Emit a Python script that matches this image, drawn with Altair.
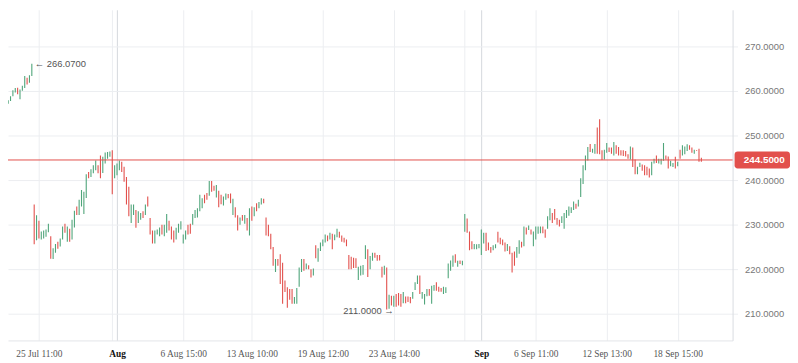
import altair as alt
import pandas as pd

# ---- data (hourly bars, one per index) ----
highs = [
    257.0, 258.5, 258.3, 257.9, 258.8, 260.1, 260.6, 260.7, 260.3, 261.1, 263.3, 262.9, 263.5, 266.07,
    234.5, 232.1, 230.9, 228.5, 228.7, 228.9, 230.2, 227.4, 224.7, 225.7,
    226.2, 226.9, 229.6, 230.2, 229.6, 229.1, 231.1, 233.1, 234.1, 235.6,
    237.8, 237.4, 241.3, 241.8, 242.4, 243.3, 244.4, 243.3, 245.5, 245.2,
    246.2, 246.3, 246.4, 246.7, 243.3, 243.7, 244.4, 244.1, 243.0, 240.7,
    238.5, 234.5, 234.5, 233.3, 233.0, 232.6, 233.0, 234.5, 236.3, 231.5,
    228.7, 228.7, 228.9, 229.4, 230.0, 230.0, 232.4, 230.9, 229.6, 228.7,
    229.3, 230.2, 230.8, 227.8, 228.7, 230.0, 230.2, 232.4, 233.3, 233.7,
    236.7, 235.9, 236.7, 237.1, 239.8, 239.8, 238.7, 238.9, 237.6, 236.7,
    236.3, 237.0, 236.9, 237.0, 235.8, 233.9, 232.1, 231.6, 232.2, 232.2,
    231.5, 233.7, 234.1, 233.9, 234.8, 235.1, 235.9, 235.8, 231.6, 230.0,
    228.0, 225.0, 222.3, 222.3, 223.4, 221.5, 217.5, 216.0, 215.6, 215.6,
    213.8, 215.8, 220.4, 222.3, 222.3, 221.3, 220.9, 220.0, 220.2, 225.4,
    224.7, 226.0, 226.7, 227.8, 227.6, 228.2, 228.0, 227.8, 229.1, 228.4,
    227.6, 227.1, 226.7, 223.2, 222.8, 222.6, 222.5, 220.6, 220.8, 221.0,
    225.4, 224.5, 223.0, 223.7, 223.7, 223.2, 223.2, 220.6, 220.8, 220.4,
    214.3, 214.1, 214.1, 214.5, 214.7, 214.5, 214.9, 213.9, 213.9, 213.8,
    214.9, 217.1, 218.6, 218.6, 214.9, 214.5, 215.6, 215.6, 216.3, 216.5,
    217.1, 216.1, 215.8, 216.1, 216.0, 221.3, 222.0, 223.1, 223.4, 221.9,
    222.0, 221.9, 232.4, 231.4, 228.5, 226.3, 225.7, 225.6, 225.7, 228.9,
    228.2, 228.2, 226.0, 225.0, 225.4, 225.6, 228.4, 227.1, 226.7, 226.0,
    225.7, 225.2, 223.7, 224.0, 225.0, 226.5, 226.2, 229.6, 229.4, 229.8,
    228.9, 228.5, 229.6, 229.6, 229.6, 229.6, 228.9, 231.9, 233.7, 232.6,
    233.5, 231.5, 231.1, 231.9, 232.6, 233.3, 234.1, 233.9, 235.2, 234.7,
    235.6, 240.4, 243.3, 245.5, 247.4, 248.1, 247.0, 248.1, 251.8, 253.6,
    246.7, 246.8, 248.3, 247.3, 247.3, 248.5, 247.8, 247.4, 246.7, 246.7,
    246.5, 245.8, 247.5, 247.3, 244.6, 243.0, 243.9, 243.5, 243.3, 243.0,
    242.6, 244.1, 244.8, 245.5, 244.8, 244.8, 248.3, 245.5, 245.3, 244.3,
    243.8, 245.2, 244.1, 246.8, 247.8, 247.5, 248.0, 247.8, 247.3, 246.8,
    246.7, 247.0, 245.0,
]
lows = [
    254.8, 256.6, 257.0, 257.1, 257.7, 258.8, 259.6, 259.2, 258.1, 260.0, 260.6, 261.4, 261.8, 263.3,
    225.6, 226.5, 226.9, 226.7, 226.9, 227.3, 228.3, 222.4, 222.3, 223.7,
    224.6, 225.1, 226.7, 228.2, 226.2, 226.2, 226.7, 229.4, 232.2, 232.2,
    234.1, 232.4, 236.0, 240.4, 240.7, 241.5, 242.2, 241.5, 240.4, 241.6,
    243.7, 244.8, 245.2, 236.8, 240.4, 241.1, 242.2, 241.8, 239.6, 234.5,
    231.9, 230.4, 232.2, 229.3, 230.4, 231.1, 231.5, 232.2, 234.1, 227.8,
    225.8, 225.8, 227.8, 227.4, 227.8, 227.4, 228.2, 228.7, 226.7, 226.0,
    226.7, 228.2, 228.9, 225.8, 226.7, 227.8, 228.0, 230.0, 231.5, 231.6,
    233.0, 233.7, 234.8, 235.6, 236.5, 237.4, 237.6, 236.1, 233.9, 234.6,
    234.3, 235.6, 235.9, 234.8, 232.2, 231.6, 228.7, 230.0, 230.9, 230.2,
    228.7, 227.6, 230.9, 231.9, 233.0, 233.7, 234.5, 234.8, 227.6, 227.4,
    224.5, 220.8, 219.4, 220.8, 216.7, 212.3, 214.9, 211.4, 213.2, 212.3,
    212.3, 212.3, 216.1, 219.4, 219.7, 220.0, 220.0, 218.2, 218.6, 222.5,
    221.7, 224.1, 225.2, 226.0, 226.3, 226.7, 224.5, 226.5, 227.2, 227.1,
    226.2, 226.0, 225.2, 220.0, 220.0, 220.3, 220.3, 217.6, 218.6, 218.8,
    222.3, 218.3, 220.0, 221.9, 222.6, 221.9, 222.0, 218.2, 218.8, 211.0,
    211.2, 211.9, 211.6, 211.6, 211.9, 211.6, 212.4, 212.4, 212.7, 212.4,
    213.4, 215.4, 216.7, 214.5, 213.4, 212.1, 214.0, 214.1, 212.3, 215.2,
    215.2, 215.0, 215.0, 214.5, 214.7, 218.0, 219.7, 220.6, 221.5, 220.6,
    221.2, 220.9, 228.4, 228.2, 224.3, 224.5, 224.5, 224.5, 224.7, 223.2,
    225.8, 224.1, 224.3, 223.7, 224.3, 224.7, 226.0, 225.6, 225.4, 224.0,
    224.1, 223.4, 219.3, 220.8, 222.6, 223.5, 224.9, 225.2, 227.8, 228.8,
    227.8, 225.2, 226.7, 228.0, 228.1, 228.1, 227.1, 229.1, 231.0, 230.4,
    231.1, 230.0, 229.6, 230.4, 229.1, 231.5, 232.0, 232.6, 233.3, 233.6,
    234.1, 236.2, 239.1, 242.2, 244.4, 246.3, 246.1, 245.9, 245.9, 245.8,
    244.5, 244.6, 246.1, 246.3, 245.9, 245.5, 245.9, 245.5, 245.5, 245.4,
    245.3, 244.8, 244.6, 242.9, 241.3, 241.3, 242.9, 242.1, 241.1, 241.1,
    240.6, 241.1, 243.7, 243.8, 243.7, 243.5, 244.3, 244.6, 242.6, 243.1,
    242.9, 242.6, 243.1, 244.8, 245.5, 245.8, 246.5, 246.8, 246.1, 245.9,
    246.5, 244.1, 244.1,
]
up = [
    0, 1, 0, 1, 1, 1, 1, 0, 1, 1, 1, 0, 1, 1,
    0, 1, 0, 1, 1, 1, 1, 0, 1, 1,
    0, 1, 1, 0, 1, 0, 1, 1, 0, 1,
    1, 1, 1, 0, 1, 1, 1, 0, 0, 1,
    1, 1, 1, 0, 1, 1, 1, 0, 0, 0,
    0, 1, 1, 0, 1, 1, 0, 1, 0, 0,
    0, 1, 1, 1, 0, 1, 1, 0, 0, 0,
    1, 1, 1, 1, 1, 0, 0, 1, 1, 1,
    1, 1, 0, 0, 1, 0, 0, 1, 0, 0,
    1, 1, 0, 0, 1, 0, 0, 1, 0, 1,
    0, 1, 0, 1, 0, 1, 1, 0, 0, 0,
    0, 0, 1, 0, 0, 0, 0, 0, 0, 0,
    1, 1, 1, 1, 0, 1, 0, 0, 1, 0,
    1, 1, 1, 1, 0, 1, 0, 1, 1, 0,
    0, 0, 0, 0, 0, 0, 0, 1, 1, 1,
    1, 0, 1, 1, 0, 0, 0, 0, 1, 0,
    1, 0, 1, 0, 0, 0, 1, 0, 0, 0,
    1, 1, 1, 0, 1, 1, 1, 0, 1, 1,
    0, 0, 0, 1, 1, 1, 1, 1, 0, 1,
    0, 1, 1, 0, 0, 0, 1, 1, 1, 1,
    1, 0, 0, 0, 1, 1, 0, 0, 0, 0,
    1, 0, 0, 0, 1, 1, 0, 1, 0, 1,
    0, 1, 1, 1, 1, 0, 0, 1, 1, 0,
    0, 0, 0, 1, 1, 1, 1, 1, 1, 0,
    1, 1, 1, 1, 1, 0, 1, 1, 0, 0,
    0, 1, 1, 0, 0, 1, 0, 0, 0, 0,
    0, 0, 1, 0, 0, 1, 1, 0, 0, 0,
    0, 1, 1, 0, 1, 1, 1, 0, 0, 1,
    1, 0, 1, 0, 1, 1, 1, 0, 0, 1,
    0, 0, 0,
]

tick_index = [16, 47, 49, 77, 106, 136, 166, 196, 203, 226, 256, 286]
tick_labels = ["25 Jul 11:00", "", "Aug", "6 Aug 15:00", "13 Aug 10:00", "19 Aug 12:00",
               "23 Aug 14:00", "", "Sep", "6 Sep 11:00", "12 Sep 13:00", "18 Sep 15:00"]
month_ticks = [49, 203]
y_ticks = [210, 220, 230, 240, 250, 260, 270]
last_price = 244.5
max_bar, max_value = 13, 266.07
min_bar, min_value = 163, 211.0

GREEN = "#4fa57a"
RED = "#e2504c"
GRID = "#eceef1"

bars = pd.DataFrame({
    "i": list(range(len(highs))),
    "high": highs,
    "low": lows,
    "dir": ["up" if u else "down" for u in up],
})

x_scale = alt.Scale(domain=[2.93, 309.2], nice=False, zero=False)
y_scale = alt.Scale(domain=[204.08, 278.14], nice=False, zero=False)

label_expr = ""
for idx, lab in zip(tick_index, tick_labels):
    label_expr += f"datum.value == {idx} ? '{lab}' : "
label_expr += "''"
month_test = " || ".join(f"datum.value == {m}" for m in month_ticks)

x_axis = alt.Axis(
    values=tick_index, labelExpr=label_expr, title=None, grid=True,
    gridColor={"condition": {"test": month_test, "value": "#d5d8dd"}, "value": GRID},
    ticks=False, domainColor="#e3e5e9", labelFont="Liberation Serif", labelFontSize=9.5,
    labelColor={"condition": {"test": month_test, "value": "#111111"}, "value": "#555555"},
    labelFontWeight={"condition": {"test": month_test, "value": "bold"}, "value": "normal"},
    labelPadding=8, labelOverlap=False, labelFlush=False,
)
y_axis = alt.Axis(
    orient="right", values=y_ticks, format=".4f", title=None, grid=True, gridColor=GRID,
    tickColor=GRID, tickSize=5, domainColor="#d9dce1", labelFont="Liberation Sans",
    labelFontSize=9.5, labelColor="#777777", labelPadding=7,
)

ohlc = alt.Chart(bars).mark_rule(strokeWidth=1.1, clip=True).encode(
    x=alt.X("i:Q", scale=x_scale, axis=x_axis),
    y=alt.Y("low:Q", scale=y_scale, axis=y_axis),
    y2="high:Q",
    color=alt.Color("dir:N", scale=alt.Scale(domain=["up", "down"], range=[GREEN, RED]), legend=None),
)

price_df = pd.DataFrame({"p": [last_price]})
price_line = alt.Chart(price_df).mark_rule(color=RED, strokeWidth=1).encode(
    y=alt.Y("p:Q", scale=y_scale)
)
tag = alt.Chart(price_df).mark_tick(
    color=RED, orient="horizontal", thickness=17, size=56, cornerRadius=3, opacity=1
).encode(x=alt.value(762), y=alt.Y("p:Q", scale=y_scale))
tag_text = alt.Chart(price_df).mark_text(
    color="white", fontWeight="bold", fontSize=10, font="Liberation Sans", baseline="middle"
).encode(x=alt.value(764), y=alt.Y("p:Q", scale=y_scale), text=alt.Text("p:Q", format=".4f"))

ann = pd.DataFrame({
    "i": [max_bar, min_bar],
    "p": [max_value, min_value],
    "t": [f"\u2190 {max_value:.4f}", f"{min_value:.4f} \u2192"],
})
ann_max = alt.Chart(ann.iloc[[0]]).mark_text(
    align="left", baseline="middle", dx=3, fontSize=9.5, font="Liberation Sans", color="#555555"
).encode(x=alt.X("i:Q", scale=x_scale), y=alt.Y("p:Q", scale=y_scale), text="t:N")
ann_min = alt.Chart(ann.iloc[[1]]).mark_text(
    align="right", baseline="middle", dx=7, dy=2, fontSize=9.5, font="Liberation Sans", color="#555555"
).encode(x=alt.X("i:Q", scale=x_scale), y=alt.Y("p:Q", scale=y_scale), text="t:N")

chart = alt.layer(ohlc, price_line, tag, tag_text, ann_max, ann_min).properties(
    width=732, height=334, autosize="none",
    padding={"left": 0, "top": 0, "right": 58, "bottom": 21},
    background="white",
).configure_view(stroke=None)

chart.save("out.html", embed_options={"renderer": "svg", "actions": False})
